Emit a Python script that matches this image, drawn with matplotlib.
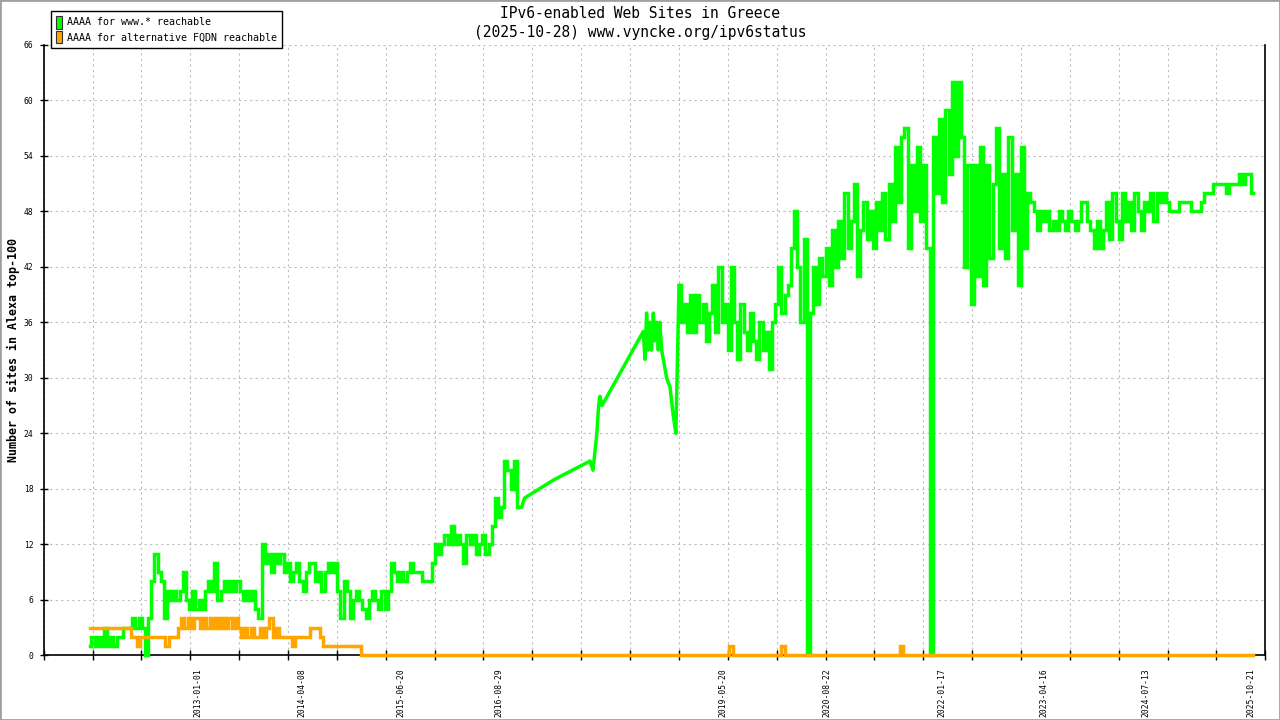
import numpy as np
import pandas as pd
import matplotlib
matplotlib.use("Agg")
import matplotlib.pyplot as plt
import matplotlib.dates as mdates
from matplotlib.patches import Patch, Rectangle
from matplotlib.ticker import FixedLocator, NullFormatter

# ---------------- data ----------------
TITLE = "IPv6-enabled Web Sites in Greece"
SUBTITLE = "(2025-10-28) www.vyncke.org/ipv6status"
YLABEL = "Number of sites in Alexa top-100"
SERIES_NAMES = ["AAAA for www.* reachable", "AAAA for alternative FQDN reachable"]
GREEN = "#00ff00"
ORANGE = "#ffa500"

# early period: one sample every 14 days
early_start = "2011-09-07"
early_step_days = 14
green_early = [
    1, 2, 1, 2, 1, 3, 1, 2, 1, 2,
    2, 3, 3, 3, 4, 3, 4, 3, 0, 4,
    8, 11, 9, 8, 4, 7, 6, 7, 6, 7,
    9, 6, 5, 7, 5, 6, 5, 7, 8, 7,
    10, 6, 7, 8, 7, 8, 7, 8, 7, 6,
    7, 6, 7, 5, 4, 12, 10, 11, 9, 11,
    10, 11, 9, 10, 8, 9, 10, 8, 7, 9,
    10, 10, 8, 9, 7, 9, 10, 9, 10, 7,
    4, 8, 7, 4, 6, 7, 6, 5, 4, 6,
    7, 6, 5, 7, 5, 7, 10, 9, 8, 9,
    8, 9, 10, 9, 9, 9, 8, 8, 8, 10,
    12, 11, 12, 13, 12, 14, 12, 13, 12, 10,
    13, 12, 13, 11, 12, 13, 11, 12, 14, 17,
    15, 16, 21, 20, 18, 21, 16,
]
orange_early = [
    3, 3, 3, 3, 3, 3, 3, 3, 3, 3,
    3, 3, 3, 2, 2, 1, 2, 2, 2, 2,
    2, 2, 2, 2, 1, 2, 2, 2, 3, 4,
    3, 4, 3, 4, 4, 3, 4, 3, 4, 3,
    4, 3, 4, 3, 4, 3, 4, 3, 2, 3,
    2, 3, 2, 2, 3, 2, 3, 4, 2, 3,
    2, 2, 2, 2, 1, 2, 2, 2, 2, 2,
    3, 3, 3, 2, 1, 1, 1, 1, 1, 1,
    1, 1, 1, 1, 1, 1, 0, 0, 0, 0,
    0, 0, 0, 0, 0, 0, 0, 0, 0, 0,
    0, 0, 0, 0, 0, 0, 0, 0, 0, 0,
    0, 0, 0, 0, 0, 0, 0, 0, 0, 0,
    0, 0, 0, 0, 0, 0, 0, 0, 0, 0,
    0, 0, 0, 0, 0, 0, 0,
]

# sparse measurements 2016-2018
green_mid_dates = [
    "2016-12-07", "2016-12-20", "2017-05-01", "2017-10-07", "2017-10-20",
    "2017-11-06", "2017-11-14", "2017-11-20", "2017-11-29", "2018-05-31",
    "2018-06-08", "2018-06-15", "2018-06-22", "2018-06-30", "2018-07-07",
    "2018-07-15", "2018-07-22", "2018-07-30", "2018-08-06", "2018-08-13",
    "2018-08-21", "2018-08-28", "2018-09-12", "2018-09-27", "2018-10-11",
    "2018-10-23",
]
green_mid = [16, 17, 19, 21, 20, 24, 27, 28, 27, 35,
             32, 37, 33, 36, 33, 37, 34, 36, 33, 36,
             33, 32, 30, 29, 26, 24]

# late period: one sample every 14 days
late_start = "2018-11-06"
late_step_days = 14
green_late = [
    40, 36, 38, 35, 39, 35, 39, 36, 38, 34,
    37, 40, 35, 42, 36, 38, 33, 42, 36, 32,
    38, 35, 33, 37, 34, 32, 36, 33, 35, 31,
    36, 38, 42, 37, 39, 40, 44, 48, 42, 36,
    45, 0, 37, 42, 38, 43, 41, 44, 40, 46,
    42, 47, 43, 50, 44, 47, 51, 41, 46, 49,
    45, 48, 44, 49, 46, 50, 45, 51, 47, 55,
    49, 56, 57, 44, 53, 48, 55, 47, 53, 44,
    0, 56, 50, 58, 49, 59, 52, 62, 54, 62,
    56, 42, 53, 38, 53, 41, 55, 40, 53, 43,
    51, 57, 44, 52, 43, 56, 46, 52, 40, 55,
    44, 50, 49, 48, 46, 48, 47, 48, 46, 47,
    46, 48, 47, 46, 48, 47, 46, 47, 49, 49,
    47, 46, 44, 47, 44, 46, 49, 45, 50, 47,
    45, 50, 47, 49, 46, 50, 48, 46, 49, 48,
    50, 47, 50, 49, 50, 49, 48, 48, 48, 49,
    49, 49, 49, 48, 48, 48, 49, 50, 50, 50,
    51, 51, 51, 51, 50, 51, 51, 51, 52, 51,
    52, 52, 50,
]
orange_late_dates = [
    "2016-12-20", "2019-06-16", "2019-06-18", "2019-06-30", "2019-07-02",
    "2020-01-29", "2020-01-31", "2020-02-16", "2020-02-18", "2021-07-12",
    "2021-07-14", "2021-07-26", "2021-07-28", "2025-10-28",
]
orange_late = [0, 0, 1, 1, 0, 0, 1, 1, 0, 0, 1, 1, 0, 0]

x_tick_labels = ["2013-01-01", "2014-04-08", "2015-06-20", "2016-08-29",
                 "2019-05-20", "2020-08-22", "2022-01-17", "2023-04-16",
                 "2024-07-13", "2025-10-21"]
y_ticks = [0, 6, 12, 18, 24, 30, 36, 42, 48, 54, 60, 66]
x_range = ("2011-02-14 07:00", "2025-12-23")
n_grid_ticks = 26

# ---------------- build series ----------------
early_dates = pd.date_range(early_start, periods=len(green_early),
                            freq=f"{early_step_days}D")
late_dates = pd.date_range(late_start, periods=len(green_late),
                           freq=f"{late_step_days}D")
mid_dates = pd.to_datetime(green_mid_dates)
bridge_dates = [early_dates[-1]] + list(mid_dates) + [late_dates[0]]
bridge_vals = [green_early[-1]] + green_mid + [green_late[0]]
o_dates = list(early_dates) + list(pd.to_datetime(orange_late_dates))
o_vals = orange_early + orange_late

# ---------------- figure ----------------
W, H = 1280, 720
fig = plt.figure(figsize=(W / 100, H / 100), dpi=100)
fig.patch.set_facecolor("white")
ax = fig.add_axes([43.7 / W, 64.7 / H, (1265.3 - 43.7) / W, (655.3 - 44.8) / H])

MONO = "DejaVu Sans Mono"
LW = 2.5

ax.plot(early_dates, green_early, color=GREEN, lw=LW, clip_on=False, zorder=3,
        drawstyle="steps-mid", solid_joinstyle="miter")
ax.plot(bridge_dates, bridge_vals, color=GREEN, lw=LW, clip_on=False, zorder=3,
        solid_joinstyle="round")
ax.plot(late_dates, green_late, color=GREEN, lw=LW, clip_on=False, zorder=3,
        drawstyle="steps-mid", solid_joinstyle="miter")
ax.plot(o_dates, o_vals, color=ORANGE, lw=LW, clip_on=False, zorder=4,
        drawstyle="steps-post", solid_joinstyle="miter")

xmin, xmax = pd.Timestamp(x_range[0]), pd.Timestamp(x_range[1])
ax.set_xlim(xmin, xmax)
ax.set_ylim(0, 66)

grid_pos = np.linspace(mdates.date2num(xmin), mdates.date2num(xmax), n_grid_ticks)
ax.xaxis.set_major_locator(FixedLocator(grid_pos))
ax.xaxis.set_major_formatter(NullFormatter())
ax.set_xticks(mdates.date2num(pd.to_datetime(x_tick_labels)), minor=True)
ax.set_xticklabels(x_tick_labels, minor=True, rotation=90,
                   fontfamily=MONO, fontsize=5.8)
ax.tick_params(axis="x", which="major", direction="inout", length=7.2,
               width=1.0, color="black")
ax.tick_params(axis="x", which="minor", length=0, pad=9.0)

ax.set_yticks(y_ticks)
ax.set_yticklabels([str(v) for v in y_ticks], fontfamily=MONO, fontsize=5.8)
ax.tick_params(axis="y", direction="inout", length=5.8, width=1.0, pad=4.5)

ax.grid(True, which="major", color="#bdbdbd", linestyle=(0, (2.0, 3.0)),
        linewidth=0.8)
ax.set_axisbelow(True)

for s in ("left", "bottom", "right"):
    ax.spines[s].set_linewidth(1.2)
    ax.spines[s].set_color("black")
ax.spines["top"].set_visible(False)

# titles and axis label
fig.text(640 / W, 1 - 13 / H, TITLE, ha="center", va="center",
         fontfamily=MONO, fontsize=10.5)
fig.text(640 / W, 1 - 32 / H, SUBTITLE, ha="center", va="center",
         fontfamily=MONO, fontsize=10.5)
fig.text(13 / W, 1 - 350 / H, YLABEL, ha="center", va="center", rotation=90,
         fontfamily=MONO, fontsize=8.4, fontweight="bold")

# legend
handles = [Patch(facecolor=GREEN, edgecolor="#333333", linewidth=0.8),
           Patch(facecolor=ORANGE, edgecolor="#333333", linewidth=0.8)]
leg = ax.legend(handles, SERIES_NAMES, loc="upper left",
                bbox_to_anchor=(50.7 / W, 1 - 10.7 / H),
                bbox_transform=fig.transFigure, borderaxespad=0,
                frameon=True, fancybox=False, framealpha=1, edgecolor="black",
                prop={"family": MONO, "size": 7.2},
                handlelength=0.6, handleheight=1.6, handletextpad=0.5,
                labelspacing=0.2, borderpad=0.5)
leg.get_frame().set_linewidth(1.0)
leg.set_zorder(10)

# outer image border
fig.patches.append(Rectangle((0, 0), 1, 1, transform=fig.transFigure,
                             fill=False, edgecolor="#a0a0a0", linewidth=2.0))

fig.savefig("out.png", dpi=100)
